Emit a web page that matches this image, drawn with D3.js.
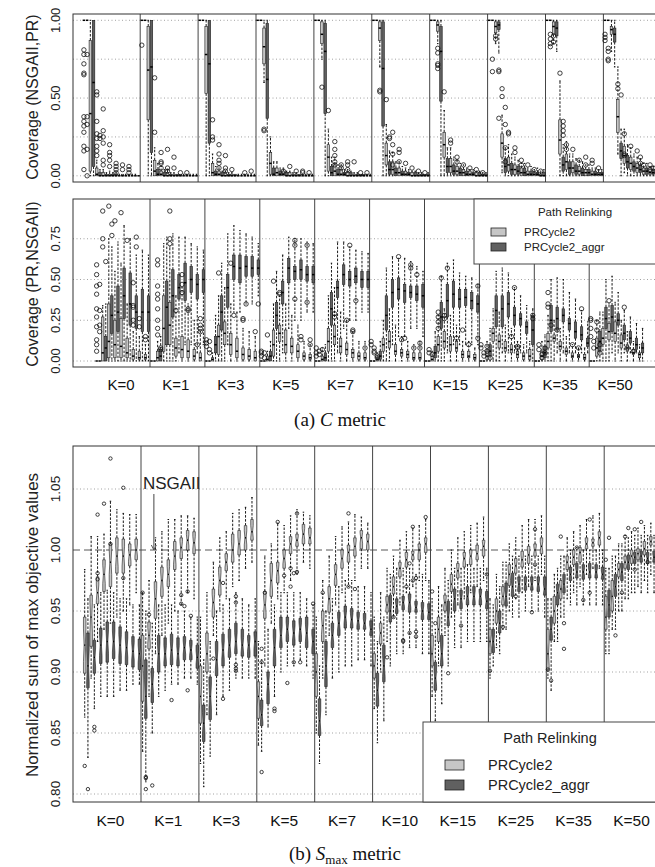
<!DOCTYPE html>
<html><head><meta charset="utf-8">
<script src="https://cdn.jsdelivr.net/npm/d3@7"></script>
<style>body{margin:0;background:#fff}svg{display:block}</style>
</head><body>
<svg id="c" width="655" height="867"></svg>
<script>
const kLabels = ["K=0","K=1","K=3","K=5","K=7","K=10","K=15","K=25","K=35","K=50"];
const seriesNames = ["PRCycle2","PRCycle2_aggr"];
const legendTitle = "Path Relinking";

// ---- Panel 1: Coverage (NSGAII,PR) ; each box = [lo,q1,median,q3,hi]
const topLight = [
 [[1,1,1,1,1],[0,.03,.40,.87,1],[0,0,.01,.05,.10],[0,0,0,.02,.04],[0,0,0,.01,.03],[0,0,0,.01,.02],[0,0,0,.01,.01],[0,0,0,0,.01],[0,0,0,0,.01]],
 [[1,1,1,1,1],[0,.36,.68,.96,1],[0,0,.03,.10,.18],[0,0,.01,.03,.06],[0,0,0,.02,.04],[0,0,0,.01,.02],[0,0,0,.01,.01],[0,0,0,0,.01],[0,0,0,0,.01]],
 [[1,1,1,1,1],[0,.53,.78,.96,1],[0,0,.02,.08,.14],[0,0,.01,.03,.05],[0,0,0,.02,.03],[0,0,0,.01,.02],[0,0,0,0,.01],[0,0,0,0,.01],[0,0,0,0,.01]],
 [[1,1,1,1,1],[.60,.72,.83,.95,1],[0,.01,.08,.15,.25],[0,0,.02,.05,.09],[0,0,.01,.03,.05],[0,0,0,.02,.03],[0,0,0,.01,.02],[0,0,0,0,.01],[0,0,0,0,.01]],
 [[1,1,1,1,1],[.75,.85,.91,.99,1],[0,.03,.12,.20,.30],[0,0,.03,.07,.12],[0,0,.01,.04,.07],[0,0,0,.02,.04],[0,0,0,.01,.02],[0,0,0,.01,.01],[0,0,0,0,.01]],
 [[1,1,1,1,1],[.70,.87,.95,.99,1],[0,.07,.13,.21,.33],[0,.01,.04,.09,.15],[0,0,.02,.05,.09],[0,0,.01,.03,.05],[0,0,0,.02,.03],[0,0,0,.01,.02],[0,0,0,.01,.01]],
 [[1,1,1,1,1],[.85,.93,.97,.99,1],[0,.12,.20,.28,.42],[0,.02,.06,.11,.18],[0,.01,.03,.06,.10],[0,0,.02,.04,.07],[0,0,.01,.03,.04],[0,0,0,.02,.03],[0,0,0,.01,.02]],
 [[1,1,1,1,1],[.85,.92,.96,.99,1],[.02,.12,.21,.27,.39],[0,.03,.07,.12,.20],[0,.01,.04,.07,.12],[0,0,.02,.05,.08],[0,0,.01,.03,.05],[0,0,.01,.02,.04],[0,0,0,.01,.03]],
 [[1,1,1,1,1],[.85,.91,.96,.99,1],[0,.14,.23,.36,.61],[0,.04,.09,.14,.22],[0,.02,.05,.09,.14],[0,.01,.03,.06,.10],[0,0,.02,.04,.07],[0,0,.01,.03,.05],[0,0,.01,.02,.04]],
 [[1,1,1,1,1],[.80,.91,.94,.96,1],[.14,.28,.38,.49,.70],[.02,.08,.13,.19,.30],[0,.04,.08,.12,.18],[0,.02,.05,.08,.12],[0,.01,.03,.05,.08],[0,.01,.02,.04,.06],[0,0,.01,.03,.05]]
];
const topDark = [
 [[1,1,1,1,1],[0,.06,.60,1,1],[0,0,0,.02,.04],[0,0,0,.01,.02],[0,0,0,.01,.02],[0,0,0,0,.01],[0,0,0,0,.01],[0,0,0,0,.01],[0,0,0,0,0]],
 [[1,1,1,1,1],[0,.15,.70,1,1],[0,0,.01,.04,.08],[0,0,0,.02,.04],[0,0,0,.01,.02],[0,0,0,.01,.01],[0,0,0,0,.01],[0,0,0,0,.01],[0,0,0,0,.01]],
 [[1,1,1,1,1],[0,.21,.72,1,1],[0,0,.01,.03,.06],[0,0,0,.02,.03],[0,0,0,.01,.02],[0,0,0,.01,.01],[0,0,0,0,.01],[0,0,0,0,.01],[0,0,0,0,.01]],
 [[1,1,1,1,1],[0,.37,.62,.98,1],[0,0,.01,.05,.09],[0,0,.01,.03,.05],[0,0,0,.02,.03],[0,0,0,.01,.02],[0,0,0,.01,.01],[0,0,0,0,.01],[0,0,0,0,.01]],
 [[1,1,1,1,1],[0,.40,.80,.98,1],[0,0,.02,.06,.12],[0,0,.01,.04,.07],[0,0,.01,.02,.04],[0,0,0,.02,.03],[0,0,0,.01,.02],[0,0,0,.01,.01],[0,0,0,0,.01]],
 [[1,1,1,1,1],[0,.32,.69,.99,1],[0,.01,.04,.09,.16],[0,0,.02,.05,.09],[0,0,.01,.03,.06],[0,0,.01,.02,.04],[0,0,0,.02,.03],[0,0,0,.01,.02],[0,0,0,.01,.02]],
 [[1,1,1,1,1],[0,.48,.80,.96,1],[0,.02,.06,.11,.18],[0,.01,.03,.07,.12],[0,0,.02,.05,.08],[0,0,.01,.03,.05],[0,0,.01,.02,.04],[0,0,0,.02,.03],[0,0,0,.01,.02]],
 [[1,1,1,1,1],[.79,.94,.97,.99,1],[0,.02,.06,.11,.18],[0,.01,.04,.08,.14],[0,.01,.03,.06,.10],[0,0,.02,.05,.08],[0,0,.01,.03,.06],[0,0,.01,.02,.05],[0,0,0,.02,.04]],
 [[1,1,1,1,1],[.80,.90,.95,.99,1],[0,.03,.07,.12,.20],[0,.01,.05,.09,.14],[0,.01,.03,.07,.11],[0,0,.02,.05,.09],[0,0,.02,.04,.07],[0,0,.01,.03,.05],[0,0,.01,.02,.04]],
 [[1,1,1,1,1],[.70,.86,.91,.95,1],[0,.11,.16,.21,.30],[0,.05,.09,.13,.20],[0,.03,.06,.09,.14],[0,.02,.04,.07,.11],[0,.01,.03,.05,.08],[0,.01,.02,.04,.06],[0,0,.01,.03,.05]]
];
// outliers per K group: [slot within group (0..17), value]
const topOutliers = [
 [[0,.81],[0,.78],[0,.72],[0,.66],[0,.65],[0,.38],[0,.35],[0,.32],[0,.28],[0,.19],[0,.16],[0,.04],[1,.78],[1,.38],[1,.33],[1,.17],[1,0],[4,.54],[4,.52],[4,.35],[4,.27],[4,.24],[4,.19],[4,.16],[4,.13],[5,.26],[5,.24],[6,.43],[6,.29],[6,.25],[6,.21],[6,.10],[6,.07],[8,.20],[8,.15],[8,.13],[8,.10],[8,.06],[10,.08],[10,.06],[10,.04],[10,.02],[12,.07],[12,.04],[14,.06],[14,.04],[14,.02]],
 [[0,.84],[4,.63],[4,.28],[6,.15],[6,.09],[6,.08],[6,.05],[8,.17],[8,.05],[8,.03],[10,.12],[10,.05],[12,.02],[14,.02]],
 [[4,.36],[4,.25],[4,.23],[6,.20],[6,.14],[6,.10],[6,.08],[6,.05],[8,.13],[8,.05],[8,.03],[10,.04],[14,.02],[16,.03]],
 [[2,.29],[2,.30],[8,.03],[10,.06],[12,.03],[14,.02],[14,.03],[16,.02]],
 [[2,.57],[4,.42],[6,.22],[6,.17],[6,.13],[6,.09],[6,.07],[8,.07],[8,.05],[10,.09],[10,.07],[10,.04],[12,.09],[14,.02],[16,.02]],
 [[2,.55],[2,.54],[4,.49],[5,.25],[5,.24],[6,.28],[6,.20],[6,.14],[6,.07],[8,.17],[8,.15],[8,.09],[10,.08],[12,.05],[14,.03],[16,.02]],
 [[2,.82],[2,.79],[2,.72],[2,.69],[2,.71],[4,.54],[6,.23],[6,.21],[8,.12],[8,.09],[10,.07],[12,.05],[14,.04],[16,.02]],
 [[1,.75],[1,.67],[2,.90],[2,.88],[3,.68],[3,.67],[3,.37],[4,.56],[4,.51],[5,.44],[5,.33],[5,.18],[5,.09],[6,.28],[6,.27],[8,.18],[8,.15],[10,.10],[10,.07],[12,.07],[14,.04],[16,.03]],
 [[1,.91],[1,.88],[1,.85],[1,.83],[2,.90],[2,.86],[4,.66],[5,.35],[5,.32],[5,.29],[5,.26],[6,.20],[6,.17],[8,.17],[10,.10],[12,.12],[12,.07],[14,.10],[14,.08],[16,.05]],
 [[0,.91],[0,.89],[0,.87],[1,.82],[1,.80],[1,.75],[1,.74],[4,.59],[4,.56],[5,.52],[6,.27],[6,.14],[6,.13],[8,.19],[10,.16],[11,.12],[11,.08],[12,.07],[14,.07],[14,.04],[15,.05]]
];

// ---- Panel 2: Coverage (PR,NSGAII)
const midLight = [
 [[0,0,0,0,0],[0,0,.05,.27,.34],[0,.02,.12,.35,.75],[0,.02,.10,.25,.55],[0,.02,.09,.26,.60],[0,.02,.05,.14,.35],[0,.01,.03,.07,.18],[0,.01,.02,.06,.15],[0,.01,.02,.04,.10]],
 [[0,0,0,0,0],[0,0,.02,.06,.12],[0,.06,.20,.40,.72],[0,.10,.22,.36,.70],[0,.03,.08,.14,.40],[0,.02,.07,.15,.45],[0,.02,.06,.13,.35],[0,.01,.03,.07,.25],[0,0,.02,.05,.18]],
 [[0,0,0,0,0],[0,0,.01,.02,.05],[0,.04,.15,.22,.40],[0,.10,.17,.24,.45],[0,.04,.10,.17,.35],[0,.02,.06,.14,.30],[0,.01,.04,.08,.20],[0,.01,.03,.07,.18],[0,0,.02,.06,.15]],
 [[0,0,0,0,0],[0,0,.01,.03,.06],[0,.03,.10,.19,.35],[0,.12,.17,.22,.40],[0,.05,.10,.19,.35],[0,.05,.09,.14,.28],[0,.02,.06,.10,.22],[0,.01,.03,.05,.12],[0,.01,.02,.04,.10]],
 [[0,0,0,0,0],[0,0,.01,.03,.08],[0,.06,.12,.20,.40],[0,.10,.15,.22,.45],[0,.05,.09,.14,.30],[0,.04,.07,.11,.25],[0,.02,.05,.07,.18],[0,.01,.03,.05,.12],[0,.01,.02,.05,.12]],
 [[0,0,0,0,0],[0,0,.01,.02,.05],[0,.06,.10,.14,.25],[0,.08,.12,.18,.32],[0,.04,.06,.10,.22],[0,.03,.05,.07,.15],[0,.02,.04,.06,.12],[0,.01,.02,.05,.10],[0,.01,.02,.05,.12]],
 [[0,0,0,0,0],[0,0,.01,.03,.06],[0,.06,.10,.15,.28],[0,.08,.12,.18,.32],[0,.06,.10,.15,.28],[0,.06,.08,.12,.22],[0,.02,.04,.06,.12],[0,.02,.03,.06,.12],[0,.01,.02,.04,.08]],
 [[0,0,0,0,0],[0,.01,.03,.06,.12],[0,.12,.17,.20,.32],[0,.08,.12,.16,.30],[0,.06,.08,.12,.22],[0,.05,.07,.10,.20],[0,.02,.04,.06,.12],[0,.01,.03,.05,.10],[0,.01,.03,.07,.12]],
 [[0,0,0,0,0],[0,.01,.03,.06,.12],[0,.08,.12,.17,.28],[0,.12,.14,.16,.25],[0,.07,.09,.12,.20],[0,.04,.06,.08,.15],[0,.02,.03,.05,.10],[0,.02,.03,.04,.08],[0,.01,.02,.04,.08]],
 [[0,0,0,0,0],[0,.03,.08,.14,.25],[0,.10,.14,.20,.30],[0,.13,.18,.23,.35],[0,.12,.17,.24,.36],[0,.08,.11,.16,.25],[0,.06,.08,.10,.18],[0,.04,.05,.07,.12],[0,.02,.04,.05,.10]]
];
const midDark = [
 [[0,0,0,0,0],[0,0,.08,.15,.35],[0,.17,.28,.40,.70],[0,.18,.30,.46,.73],[0,.26,.40,.57,.83],[0,.22,.35,.54,.75],[0,.20,.30,.40,.65],[0,.18,.30,.44,.68],[0,.18,.30,.40,.65]],
 [[0,0,0,0,0],[0,0,.03,.07,.15],[0,.10,.33,.49,.76],[0,.27,.40,.56,.78],[.05,.38,.45,.53,.76],[.10,.37,.48,.60,.76],[.10,.42,.50,.58,.72],[.05,.38,.47,.53,.70],[.10,.42,.50,.56,.68]],
 [[0,0,0,0,0],[0,.05,.10,.15,.28],[0,.19,.30,.40,.60],[.10,.33,.45,.53,.78],[.30,.50,.58,.65,.83],[.30,.48,.57,.65,.80],[.35,.52,.58,.64,.78],[.35,.52,.57,.64,.76],[.40,.53,.57,.62,.72]],
 [[0,0,0,0,0],[0,0,.03,.06,.12],[0,.20,.28,.36,.55],[.05,.35,.42,.49,.65],[.20,.48,.57,.63,.76],[.25,.50,.55,.58,.75],[.25,.50,.56,.62,.75],[.30,.49,.53,.58,.73],[.30,.48,.53,.58,.72]],
 [[0,0,0,0,0],[0,0,.02,.05,.10],[0,.22,.32,.42,.60],[.05,.39,.45,.49,.73],[.20,.47,.53,.59,.73],[.25,.46,.50,.55,.70],[.25,.48,.52,.57,.68],[.30,.45,.50,.55,.67],[.30,.45,.50,.55,.66]],
 [[0,0,0,0,0],[0,.01,.03,.06,.12],[0,.19,.28,.40,.57],[.10,.33,.42,.50,.64],[.15,.38,.44,.51,.63],[.15,.36,.43,.47,.63],[.20,.39,.42,.46,.61],[.20,.37,.41,.46,.58],[.15,.33,.40,.47,.55]],
 [[0,0,0,0,0],[0,.02,.05,.09,.18],[0,.20,.27,.36,.52],[.05,.27,.37,.47,.60],[.10,.33,.41,.49,.62],[.10,.33,.38,.44,.54],[.10,.34,.39,.44,.52],[.10,.32,.37,.42,.51],[.10,.30,.35,.40,.47]],
 [[0,0,0,0,0],[0,.03,.06,.10,.20],[0,.21,.31,.40,.55],[.05,.21,.32,.40,.57],[.05,.27,.35,.42,.54],[.05,.22,.28,.33,.45],[.05,.22,.26,.29,.40],[.05,.17,.21,.24,.34],[0,.10,.19,.28,.32]],
 [[0,0,0,0,0],[0,.02,.05,.09,.16],[0,.18,.25,.34,.50],[.05,.19,.26,.33,.51],[.05,.24,.28,.32,.50],[.05,.19,.23,.26,.42],[.05,.14,.18,.24,.38],[.05,.13,.16,.21,.31],[.05,.09,.11,.14,.24]],
 [[0,0,0,0,0],[0,.06,.12,.18,.30],[0,.20,.26,.33,.50],[.05,.18,.27,.34,.52],[.05,.22,.25,.29,.42],[.05,.13,.17,.22,.31],[.05,.11,.14,.18,.27],[.05,.07,.10,.14,.23],[0,.05,.08,.11,.20]]
];
const midOutliers = [
 [[0,.59],[0,.53],[0,.46],[0,.41],[0,.32],[0,.27],[0,.21],[0,.13],[0,.10],[0,.06],[1,.47],[1,.31],[1,.22],[1,.18],[2,.92],[2,.75],[2,.70],[3,.61],[4,.95],[5,.84],[5,.77],[6,.86],[8,.91],[10,.74],[12,.48],[12,.34],[12,.33],[12,.25],[12,.22],[13,.76],[13,.70],[14,.26],[14,.21],[16,.15],[16,.13]],
 [[2,.62],[2,.59],[2,.46],[2,.41],[2,.38],[2,.32],[2,.25],[2,.20],[2,.16],[3,.08],[3,.07],[6,.92],[6,.75],[6,.72],[8,.31],[10,.53],[10,.47],[10,.42],[12,.32],[12,.31],[15,.10],[16,.26],[16,.22],[16,.20],[16,.18]],
 [[0,.13],[0,.11],[0,.09],[1,.07],[1,.05],[1,.12],[4,.54],[8,.60],[9,.28],[12,.26],[12,.25],[13,.35],[16,.18],[17,.35]],
 [[0,.06],[0,.05],[0,.03],[1,.05],[1,.02],[2,.16],[4,.49],[6,.42],[6,.41],[11,.74],[11,.71],[11,.38],[13,.15],[13,.13],[15,.71],[15,.36],[16,.13],[16,.10]],
 [[0,.08],[0,.05],[0,.03],[1,.06],[1,.04],[2,.07],[6,.29],[6,.27],[10,.25],[11,.71],[12,.19],[12,.18],[13,.37],[16,.08]],
 [[0,.12],[0,.10],[1,.08],[1,.06],[1,.05],[2,.03],[2,.02],[9,.64],[10,.13],[11,.14],[13,.59],[13,.57],[14,.08],[15,.53],[16,.11],[16,.08]],
 [[1,.07],[1,.05],[2,.04],[4,.30],[4,.27],[4,.24],[4,.20],[5,.51],[6,.28],[6,.26],[7,.57],[10,.14],[12,.19],[14,.10],[17,.46],[17,.14]],
 [[0,.10],[0,.08],[1,.05],[1,.03],[2,.09],[2,.06],[3,.02],[10,.15],[11,.45],[12,.09],[12,.08],[17,.28],[17,.26]],
 [[1,.10],[1,.07],[2,.04],[2,.02],[3,.08],[3,.05],[4,.42],[4,.35],[4,.33],[5,.22],[7,.19],[12,.10],[14,.08],[15,.32]],
 [[0,.26],[0,.25],[0,.20],[0,.15],[1,.12],[1,.08],[2,.24],[2,.19],[3,.10],[3,.05],[6,.37],[11,.33],[12,.08],[14,.06]]
];

// ---- Panel 3: Normalized sum of max objective values
const botLight = [
 [[.863,.899,.922,.945,.984],[.895,.921,.945,.963,1.011],[.925,.956,.965,.978,1.011],[.935,.966,.980,.992,1.013],[.940,.970,.990,1.005,1.040],[.945,.981,.995,1.010,1.033],[.950,.981,.995,1.009,1.030],[.955,.987,.996,1.005,1.029],[.965,.992,1.000,1.009,1.029]],
 [[.835,.876,.905,.930,.965],[.880,.919,.930,.941,.975],[.915,.944,.960,.974,1.010],[.930,.962,.975,.986,1.015],[.940,.970,.980,.992,1.025],[.950,.984,.995,1.007,1.025],[.955,.993,1.002,1.010,1.028],[.965,1.000,1.008,1.016,1.028],[.960,.997,1.006,1.015,1.026]],
 [[.825,.858,.880,.905,.945],[.865,.900,.915,.932,.965],[.930,.945,.957,.968,.990],[.950,.963,.975,.986,1.010],[.960,.983,.990,.997,1.015],[.970,.990,1.000,1.013,1.030],[.975,.996,1.005,1.016,1.033],[.985,1.000,1.010,1.020,1.035],[.990,1.008,1.015,1.025,1.043]],
 [[.840,.862,.880,.892,.925],[.905,.944,.955,.966,.995],[.940,.962,.975,.989,1.005],[.960,.973,.983,.990,1.022],[.965,.985,.993,1.000,1.020],[.975,.997,1.005,1.011,1.028],[.980,1.003,1.008,1.013,1.033],[.990,1.005,1.013,1.021,1.031],[.985,1.005,1.010,1.018,1.028]],
 [[.850,.880,.900,.915,.945],[.895,.925,.938,.950,.975],[.930,.949,.960,.970,.995],[.955,.971,.980,.988,1.011],[.965,.985,.993,1.000,1.019],[.970,.990,.998,1.004,1.023],[.975,.995,1.003,1.010,1.029],[.985,1.001,1.010,1.016,1.027],[.985,1.000,1.007,1.013,1.022]],
 [[.870,.895,.905,.915,.945],[.900,.923,.932,.940,.965],[.925,.949,.955,.962,.985],[.945,.964,.970,.978,.995],[.955,.978,.985,.990,1.008],[.965,.986,.992,.998,1.015],[.970,.992,.996,.999,1.018],[.975,.992,1.000,1.005,1.020],[.975,.998,1.005,1.010,1.025]],
 [[.880,.905,.915,.930,.960],[.905,.925,.935,.945,.970],[.930,.950,.957,.963,.985],[.945,.966,.972,.980,1.000],[.955,.977,.983,.989,1.010],[.960,.986,.993,.998,1.015],[.965,.988,.995,1.000,1.020],[.970,.992,.997,1.004,1.022],[.975,.995,1.003,1.008,1.027]],
 [[.895,.915,.925,.935,.960],[.920,.940,.950,.960,.980],[.935,.955,.962,.970,.990],[.950,.971,.980,.988,1.005],[.960,.981,.987,.993,1.010],[.965,.986,.992,.999,1.020],[.970,.989,.996,1.003,1.025],[.975,.995,1.000,1.005,1.025],[.980,.997,1.003,1.010,1.028]],
 [[.895,.902,.915,.935,.960],[.925,.940,.950,.962,.980],[.945,.960,.968,.975,.995],[.960,.984,.990,.995,1.010],[.965,.988,.994,1.000,1.015],[.970,.990,.998,1.002,1.020],[.980,1.001,1.005,1.010,1.025],[.985,1.003,1.006,1.009,1.028],[.985,1.004,1.010,1.015,1.030]],
 [[.915,.935,.945,.962,.985],[.935,.950,.962,.975,.995],[.950,.978,.984,.989,1.005],[.960,.985,.990,.995,1.012],[.965,.989,.995,1.000,1.015],[.970,.992,.997,1.001,1.018],[.975,.996,1.001,1.007,1.020],[.980,1.004,1.007,1.011,1.022],[.980,1.000,1.005,1.010,1.025]]
];
const botDark = [
 [[.830,.887,.905,.932,.960],[.870,.899,.912,.926,.955],[.880,.907,.922,.936,.965],[.880,.908,.925,.941,.967],[.880,.911,.925,.941,.965],[.885,.907,.922,.937,.960],[.885,.906,.920,.933,.960],[.890,.904,.917,.929,.955],[.890,.902,.915,.927,.955]],
 [[.810,.862,.880,.910,.950],[.850,.875,.890,.903,.940],[.880,.900,.915,.930,.955],[.885,.905,.915,.928,.955],[.890,.906,.918,.931,.955],[.890,.905,.915,.928,.950],[.895,.910,.920,.929,.950],[.895,.910,.918,.926,.945],[.890,.903,.912,.922,.945]],
 [[.806,.843,.858,.873,.910],[.831,.861,.880,.896,.925],[.865,.897,.910,.925,.950],[.880,.905,.918,.931,.955],[.885,.912,.922,.935,.960],[.895,.915,.925,.940,.965],[.895,.913,.922,.935,.960],[.895,.912,.922,.930,.955],[.895,.913,.925,.933,.960]],
 [[.835,.856,.865,.877,.910],[.855,.874,.890,.900,.935],[.880,.905,.920,.935,.955],[.900,.920,.930,.945,.965],[.905,.925,.935,.945,.965],[.905,.922,.932,.942,.965],[.910,.925,.935,.944,.965],[.905,.920,.932,.945,.960],[.895,.915,.925,.935,.955]],
 [[.825,.848,.860,.878,.905],[.865,.888,.905,.925,.950],[.895,.920,.930,.940,.960],[.900,.930,.940,.949,.970],[.905,.936,.945,.954,.975],[.905,.936,.943,.952,.975],[.910,.935,.942,.949,.970],[.910,.935,.940,.948,.970],[.905,.930,.935,.942,.965]],
 [[.842,.872,.885,.899,.925],[.860,.892,.905,.922,.945],[.905,.941,.950,.963,.980],[.915,.948,.954,.960,.985],[.915,.951,.957,.962,.985],[.920,.949,.957,.964,.985],[.920,.949,.953,.958,.980],[.915,.943,.950,.957,.980],[.915,.943,.949,.956,.975]],
 [[.860,.885,.895,.908,.935],[.874,.905,.915,.930,.955],[.905,.938,.945,.958,.975],[.920,.950,.960,.968,.985],[.920,.952,.960,.967,.985],[.925,.955,.962,.970,.988],[.925,.955,.962,.970,.985],[.925,.955,.962,.968,.985],[.925,.952,.958,.966,.985]],
 [[.905,.916,.925,.935,.955],[.915,.932,.940,.950,.970],[.935,.954,.962,.973,.990],[.945,.962,.970,.981,.995],[.945,.966,.972,.978,.995],[.950,.967,.972,.978,.995],[.950,.967,.972,.978,.995],[.950,.966,.972,.978,.995],[.945,.963,.968,.978,.995]],
 [[.885,.926,.935,.945,.960],[.925,.955,.965,.972,.985],[.945,.965,.972,.980,.995],[.955,.975,.980,.986,1.000],[.955,.977,.982,.989,1.002],[.955,.976,.982,.988,1.000],[.955,.977,.982,.989,1.000],[.955,.977,.982,.988,1.000],[.955,.976,.980,.986,1.000]],
 [[.915,.945,.955,.967,.985],[.935,.962,.970,.980,.995],[.950,.975,.982,.989,1.005],[.960,.984,.990,.996,1.010],[.965,.989,.994,.998,1.012],[.965,.990,.995,.999,1.012],[.965,.989,.993,.998,1.012],[.965,.990,.994,.999,1.012],[.965,.990,.994,.999,1.012]]
];
const botOutliers = [
 [[0,.823],[1,.804],[3,.855],[3,.852],[4,.981],[4,.976],[4,1.029],[6,1.038],[8,1.075],[8,1.005],[12,1.051],[12,.977]],
 [[0,.965],[1,.814],[1,.813],[1,.804],[2,.947],[3,.807],[9,.877],[12,.963],[12,.956],[13,.954],[14,.966],[14,.885],[15,.946]],
 [[4,.911],[7,.973],[7,.878],[11,.962],[11,.957],[11,.906],[11,.903],[11,.901]],
 [[1,.818],[1,.919],[1,.908],[2,.965],[5,.870],[5,.868],[6,1.023],[8,.979],[9,.891],[10,.985],[10,.970],[11,.981],[11,.908],[12,1.030],[12,.982],[13,.908],[17,.956]],
 [[2,.965],[10,1.030],[10,.970],[12,.968]],
 [[4,.912],[6,.945],[9,.926],[9,.925],[10,.970],[11,.989],[11,.932],[12,1.019],[12,.975],[13,.977],[13,.933],[13,.929],[16,1.027]],
 [[0,.966],[1,.940],[5,.899],[9,.938],[17,.980]],
 [[0,.901],[4,.937],[8,.962],[13,.949],[14,1.017],[14,.988]],
 [[0,.902],[1,.893],[4,1.011],[5,.940],[5,.919],[9,1.002],[11,.959],[13,1.025],[13,.965]],
 [[0,.992],[1,1.010],[3,.930],[5,.965],[6,1.011],[7,1.018],[9,1.017],[9,.984],[11,1.023],[13,.990]]
];

const topTicks = [0, 0.5, 1], topGrid = [0, 0.25, 0.5, 0.75, 1];
const midTicks = [0, 0.25, 0.5, 0.75], midGrid = [0, 0.25, 0.5, 0.75];
const botTicks = [0.80, 0.85, 0.90, 0.95, 1.00, 1.05], botRef = 1.00;

// ------------------------------------------------------------------
const svg = d3.select("#c");
const SANS = "'Liberation Sans', Arial, Helvetica, sans-serif";
const SERIF = "'Liberation Serif', 'DejaVu Serif', serif";
const LIGHT = "#c6c6c6", DARK = "#606060";
const SLOTS = 18, NG = kLabels.length;
const fmt = d3.format(".2f");

const xTop = d3.scaleLinear().domain([0, SLOTS * NG]).range([82.3, 661.3]);
const xMid = d3.scaleLinear().domain([0, SLOTS * NG]).range([95.1, 644.1]);
const xBot = d3.scaleLinear().domain([0, SLOTS * NG]).range([83.1, 662.1]);
const yTop = d3.scaleLinear().domain([0, 1]).range([175.8, 20.3]);
const yMid = d3.scaleLinear().domain([0, 1]).range([361, 198]);
const yBot = d3.scaleLinear().domain([0.8, 1.05]).range([794, 489]);

const defs = svg.append("defs");

function drawPanel(p) {
  const clipId = "clip-" + p.id;
  defs.append("clipPath").attr("id", clipId).append("rect")
    .attr("x", p.left).attr("y", p.top).attr("width", p.right - p.left).attr("height", p.bottom - p.top);
  const g = svg.append("g").attr("clip-path", `url(#${clipId})`);

  p.grid.forEach(v => g.append("line").attr("x1", p.left).attr("x2", p.right)
    .attr("y1", p.y(v)).attr("y2", p.y(v)).attr("stroke", "#8a8a8a").attr("stroke-width", 0.8)
    .attr("stroke-dasharray", "1,2.5"));
  if (p.ref != null) {
    g.append("line").attr("x1", p.left).attr("x2", p.right).attr("y1", p.y(p.ref)).attr("y2", p.y(p.ref))
      .attr("stroke", "#444").attr("stroke-width", 0.9).attr("stroke-dasharray", "7,4");
  }
  d3.range(1, NG).forEach(k => g.append("line")
    .attr("x1", p.x(k * SLOTS)).attr("x2", p.x(k * SLOTS)).attr("y1", p.top).attr("y2", p.bottom)
    .attr("stroke", "#444").attr("stroke-width", 1));

  const boxes = [];
  kLabels.forEach((lab, gi) => {
    for (let j = 0; j < 9; j++) {
      boxes.push({ gi, slot: 2 * j, s: p.light[gi][j], fill: LIGHT });
      boxes.push({ gi, slot: 2 * j + 1, s: p.dark[gi][j], fill: DARK });
    }
  });
  const w = p.boxW;
  boxes.forEach(b => {
    const cx = p.x(b.gi * SLOTS + b.slot + 0.5);
    const [lo, q1, md, q3, hi] = b.s;
    const xl = cx - w / 2, xr = cx + w / 2;
    [[q3, hi], [q1, lo]].forEach(([a, c]) => {
      if (a !== c) {
        g.append("line").attr("x1", cx).attr("x2", cx).attr("y1", p.y(a)).attr("y2", p.y(c))
          .attr("stroke", "#000").attr("stroke-width", 0.9).attr("stroke-dasharray", "2.5,1.5");
        g.append("line").attr("x1", cx - w * 0.3).attr("x2", cx + w * 0.3).attr("y1", p.y(c)).attr("y2", p.y(c))
          .attr("stroke", "#000").attr("stroke-width", 0.9);
      }
    });
    if (p.notch) {
      const nh = 0.29 * (q3 - q1);
      const pts = [[xl, q1], [xl, md - nh], [xl + w / 4, md], [xl, md + nh], [xl, q3],
                   [xr, q3], [xr, md + nh], [xr - w / 4, md], [xr, md - nh], [xr, q1]];
      g.append("path").attr("d", d3.line()(pts.map(d => [d[0], p.y(d[1])])) + "Z")
        .attr("fill", b.fill).attr("stroke", "#1a1a1a").attr("stroke-width", 0.6);
      g.append("line").attr("x1", xl + w / 4).attr("x2", xr - w / 4).attr("y1", p.y(md)).attr("y2", p.y(md))
        .attr("stroke", "#000").attr("stroke-width", 1.4);
    } else {
      g.append("rect").attr("x", xl).attr("y", p.y(q3)).attr("width", w)
        .attr("height", Math.max(0, p.y(q1) - p.y(q3)))
        .attr("fill", b.fill).attr("stroke", "#1a1a1a").attr("stroke-width", 0.6);
      g.append("line").attr("x1", xl).attr("x2", xr).attr("y1", p.y(md)).attr("y2", p.y(md))
        .attr("stroke", "#000").attr("stroke-width", 1.5);
    }
  });
  p.outliers.forEach((list, gi) => list.forEach(([slot, v]) => {
    g.append("circle").attr("cx", p.x(gi * SLOTS + slot + 0.5)).attr("cy", p.y(v)).attr("r", p.r)
      .attr("fill", "none").attr("stroke", "#111").attr("stroke-width", 0.8);
  }));

  svg.append("rect").attr("x", p.left).attr("y", p.top).attr("width", p.right - p.left)
    .attr("height", p.bottom - p.top).attr("fill", "none").attr("stroke", "#333").attr("stroke-width", 1);

  p.ticks.forEach(v => svg.append("text")
    .attr("transform", `translate(${p.tickX},${p.y(v)}) rotate(-90)`)
    .attr("text-anchor", "middle").attr("dy", "0.35em")
    .attr("font-family", SANS).attr("font-size", p.tickSize).attr("fill", "#222").text(fmt(v)));

  svg.append("text")
    .attr("transform", `translate(${p.titleX},${p.titleY}) rotate(-90)`)
    .attr("text-anchor", "middle").attr("dy", "0.35em")
    .attr("font-family", SANS).attr("font-size", p.titleSize).attr("fill", "#222").text(p.title);

  if (p.labelY) {
    kLabels.forEach((lab, gi) => svg.append("text")
      .attr("x", p.x(gi * SLOTS + 8.5)).attr("y", p.labelY).attr("text-anchor", "middle")
      .attr("font-family", SANS).attr("font-size", p.labelSize).attr("fill", "#111").text(lab));
  }
}

function drawLegend(o) {
  const g = svg.append("g");
  g.append("rect").attr("x", o.x).attr("y", o.y).attr("width", o.w).attr("height", o.h)
    .attr("fill", "#fff").attr("stroke", "#444").attr("stroke-width", 1);
  g.append("text").attr("x", o.titleX).attr("y", o.titleY).attr("text-anchor", "middle")
    .attr("font-family", SANS).attr("font-size", o.fs).attr("fill", "#222").text(legendTitle);
  [LIGHT, DARK].forEach((c, i) => {
    g.append("rect").attr("x", o.sx).attr("y", o.sy[i] - o.sh / 2).attr("width", o.sw).attr("height", o.sh)
      .attr("fill", c).attr("stroke", "#222").attr("stroke-width", 0.8);
    g.append("text").attr("x", o.tx).attr("y", o.sy[i]).attr("dy", "0.35em")
      .attr("font-family", SANS).attr("font-size", o.fs).attr("fill", "#222").text(seriesNames[i]);
  });
}

drawPanel({ id: "top", left: 73, right: 700, top: 14, bottom: 182, x: xTop, y: yTop,
  light: topLight, dark: topDark, outliers: topOutliers, grid: topGrid, ticks: topTicks,
  boxW: 2.5, r: 2.2, notch: false, tickX: 55, tickSize: 13,
  title: "Coverage (NSGAII,PR)", titleX: 32, titleY: 97, titleSize: 16 });

drawPanel({ id: "mid", left: 73, right: 700, top: 199, bottom: 367, x: xMid, y: yMid,
  light: midLight, dark: midDark, outliers: midOutliers, grid: midGrid, ticks: midTicks,
  boxW: 2.4, r: 2.2, notch: false, tickX: 55, tickSize: 13,
  title: "Coverage (PR,NSGAII)", titleX: 32, titleY: 284, titleSize: 16,
  labelY: 390, labelSize: 15 });

drawLegend({ x: 474, y: 199, w: 200, h: 65, titleX: 575, titleY: 216, fs: 11.5,
  sx: 491, sw: 15, sh: 8, sy: [232, 247], tx: 524 });

drawPanel({ id: "bot", left: 73, right: 700, top: 446, bottom: 802, x: xBot, y: yBot,
  light: botLight, dark: botDark, outliers: botOutliers, grid: [0.80, 0.85, 0.90, 0.95, 1.05], ref: botRef,
  ticks: botTicks, boxW: 2.5, r: 1.7, notch: true, tickX: 55, tickSize: 13.5,
  title: "Normalized sum of max objective values", titleX: 32, titleY: 625, titleSize: 17,
  labelY: 826, labelSize: 15.5 });

drawLegend({ x: 423, y: 722, w: 260, h: 80, titleX: 550, titleY: 743, fs: 14.5,
  sx: 445, sw: 19, sh: 10, sy: [765, 785], tx: 488 });

// NSGAII annotation (arrow pointing to the 1.00 reference)
const ax = xBot(SLOTS + 4), ay0 = yBot(1.046), ay1 = yBot(1.0);
svg.append("text").attr("x", xBot(SLOTS + 0.6)).attr("y", yBot(1.050)).attr("font-family", SANS)
  .attr("font-size", 17).attr("fill", "#222").text("NSGAII");
svg.append("line").attr("x1", ax).attr("x2", ax).attr("y1", ay0).attr("y2", ay1)
  .attr("stroke", "#555").attr("stroke-width", 1.1);
svg.append("path").attr("d", `M${ax - 2.5},${ay1 - 5}L${ax},${ay1}L${ax + 2.5},${ay1 - 5}`)
  .attr("fill", "none").attr("stroke", "#555").attr("stroke-width", 1);

// captions
const capA = svg.append("text").attr("x", 340).attr("y", 426).attr("text-anchor", "middle")
  .attr("font-family", SERIF).attr("font-size", 19).attr("fill", "#111");
capA.append("tspan").text("(a) ");
capA.append("tspan").attr("font-style", "italic").text("C");
capA.append("tspan").text(" metric");

const capB = svg.append("text").attr("x", 345).attr("y", 860).attr("text-anchor", "middle")
  .attr("font-family", SERIF).attr("font-size", 19).attr("fill", "#111");
capB.append("tspan").text("(b) ");
capB.append("tspan").attr("font-style", "italic").text("S");
capB.append("tspan").attr("font-size", 13).attr("dy", 4).text("max");
capB.append("tspan").attr("dy", -4).text(" metric");
</script>
</body></html>
